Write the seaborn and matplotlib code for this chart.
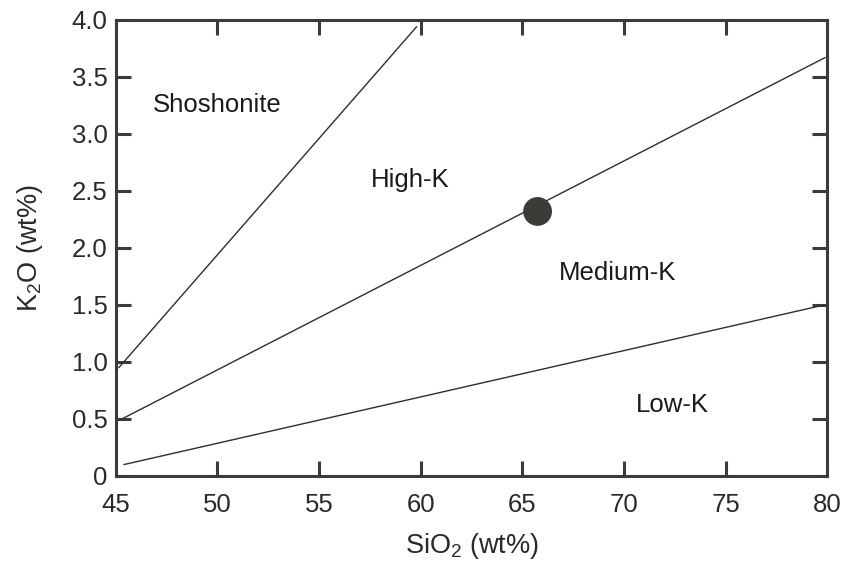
import matplotlib
matplotlib.use("Agg")
import matplotlib.pyplot as plt
import seaborn as sns
import pandas as pd

# Boundary lines of the K2O vs SiO2 classification (endpoints, wt%)
shoshonite_sio2 = [45.15, 59.8]
shoshonite_k2o = [0.95, 3.94]
highk_sio2 = [45.3, 79.9]
highk_k2o = [0.50, 3.67]
lowk_sio2 = [45.4, 79.85]
lowk_k2o = [0.10, 1.50]

# Sample
sample_sio2 = [65.75]
sample_k2o = [2.32]

# Field labels
field_names = ["Shoshonite", "High-K", "Medium-K", "Low-K"]
field_x = [50.0, 59.5, 69.7, 72.4]
field_y = [3.25, 2.6, 1.78, 0.62]

x_ticks = [45, 50, 55, 60, 65, 70, 75, 80]
y_ticks = [0, 0.5, 1.0, 1.5, 2.0, 2.5, 3.0, 3.5, 4.0]
y_tick_labels = ["0", "0.5", "1.0", "1.5", "2.0", "2.5", "3.0", "3.5", "4.0"]

sns.set_style("ticks")
plt.rcParams["font.family"] = ["Liberation Sans", "DejaVu Sans"]
plt.rcParams["mathtext.fontset"] = "custom"
plt.rcParams["mathtext.rm"] = "Liberation Sans"
plt.rcParams["mathtext.it"] = "Liberation Sans:italic"

frame_col = "#3b3b37"
line_col = "#2e2e2b"
text_col = "#2a2a28"

fig = plt.figure(figsize=(8.45, 5.68), dpi=100)
ax = fig.add_axes([0.137, 0.162, 0.842, 0.803])

boundaries = pd.concat([
    pd.DataFrame({"SiO2": shoshonite_sio2, "K2O": shoshonite_k2o, "line": "shoshonite"}),
    pd.DataFrame({"SiO2": highk_sio2, "K2O": highk_k2o, "line": "highk"}),
    pd.DataFrame({"SiO2": lowk_sio2, "K2O": lowk_k2o, "line": "lowk"}),
])
sns.lineplot(data=boundaries, x="SiO2", y="K2O", units="line", estimator=None,
             color=line_col, linewidth=1.0, ax=ax, legend=False)

sample = pd.DataFrame({"SiO2": sample_sio2, "K2O": sample_k2o})
sns.scatterplot(data=sample, x="SiO2", y="K2O", s=430, color="#3a3c38",
                edgecolor="none", ax=ax, zorder=5, legend=False)

for name, fx, fy in zip(field_names, field_x, field_y):
    ax.text(fx, fy, name, ha="center", va="center", fontsize=18.5, color="#1a1a1a")

ax.set_xlim(45, 80)
ax.set_ylim(0, 4.0)
ax.set_xticks(x_ticks)
ax.set_yticks(y_ticks)
ax.set_yticklabels(y_tick_labels)
ax.set_xlabel("SiO$_2$ (wt%)", fontsize=19.5, color=text_col, labelpad=10)
ax.set_ylabel("K$_2$O (wt%)", fontsize=19.5, color=text_col, labelpad=19)

for sp in ax.spines.values():
    sp.set_visible(True)
    sp.set_linewidth(2.2)
    sp.set_color(frame_col)
ax.tick_params(direction="in", length=10.5, width=2.2, color=frame_col,
               labelsize=18.5, labelcolor=text_col,
               top=True, right=True, labeltop=False, labelright=False)
ax.tick_params(axis="x", pad=12)
ax.tick_params(axis="y", pad=6)

fig.savefig("out.png", dpi=100)
